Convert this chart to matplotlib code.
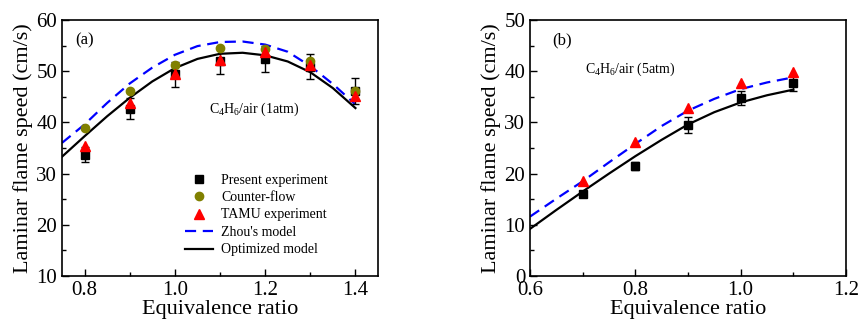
import matplotlib
matplotlib.use("Agg")
import matplotlib.pyplot as plt
from matplotlib.ticker import MultipleLocator

plt.rcParams["font.family"] = ["Liberation Serif", "DejaVu Serif"]
plt.rcParams["mathtext.fontset"] = "custom"
plt.rcParams["mathtext.rm"] = "Liberation Serif"
plt.rcParams["mathtext.it"] = "Liberation Serif:italic"

# ---- panel (a): C4H6/air, 1 atm ----
phi_a = [0.8, 0.9, 1.0, 1.1, 1.2, 1.3, 1.4]
present_a = [33.7, 42.7, 49.4, 52.0, 52.4, 50.9, 46.1]
present_a_err = [1.4, 2.1, 2.4, 2.6, 2.5, 2.4, 2.5]
counter_a = [39.0, 46.1, 51.2, 54.6, 54.3, 52.0, 46.1]
tamu_a = [35.4, 43.7, 49.5, 52.1, 53.8, 51.2, 45.2]

model_phi_a = [0.75, 0.8, 0.85, 0.9, 0.95, 1.0, 1.05, 1.1, 1.15, 1.2, 1.25, 1.3, 1.35, 1.4]
zhou_a = [36.0, 39.6, 43.8, 47.6, 50.7, 53.2, 54.9, 55.7, 55.8, 55.2, 53.8, 51.0, 47.5, 43.5]
optim_a = [33.3, 37.3, 41.2, 44.8, 48.0, 50.6, 52.4, 53.4, 53.6, 53.1, 51.9, 49.8, 46.7, 42.8]

# ---- panel (b): C4H6/air, 5 atm ----
phi_b = [0.7, 0.8, 0.9, 1.0, 1.1]
present_b = [16.0, 21.5, 29.5, 34.8, 37.6]
present_b_err = [0.5, 0.8, 1.5, 1.4, 1.5]
tamu_b = [18.6, 26.2, 32.9, 37.6, 39.9]

model_phi_b = [0.6, 0.65, 0.7, 0.75, 0.8, 0.85, 0.9, 0.95, 1.0, 1.05, 1.1]
zhou_b = [11.6, 15.1, 18.5, 22.2, 25.8, 29.3, 32.3, 34.6, 36.5, 37.8, 38.8]
optim_b = [9.2, 12.9, 16.5, 20.0, 23.4, 26.6, 29.6, 32.0, 33.9, 35.3, 36.4]

fig = plt.figure(figsize=(8.59, 3.29), dpi=100)
ax1 = fig.add_axes([62 / 859, 1 - 276 / 329, 316 / 859, 256 / 329])
ax2 = fig.add_axes([530 / 859, 1 - 276 / 329, 316 / 859, 256 / 329])


def style_axis(ax, xmaj, ymaj):
    ax.xaxis.set_major_locator(MultipleLocator(xmaj))
    ax.xaxis.set_minor_locator(MultipleLocator(xmaj / 2))
    ax.yaxis.set_major_locator(MultipleLocator(ymaj))
    ax.yaxis.set_minor_locator(MultipleLocator(ymaj / 2))
    ax.tick_params(which="both", direction="in", top=False, right=False, labelsize=15)
    ax.tick_params(which="major", length=5, width=1)
    ax.tick_params(which="minor", length=3, width=1)
    for s in ax.spines.values():
        s.set_linewidth(1.2)
    ax.set_xlabel("Equivalence ratio", fontsize=16, labelpad=0)
    ax.set_ylabel("Laminar flame speed (cm/s)", fontsize=16, labelpad=2)


# panel (a)
zh, = ax1.plot(model_phi_a, zhou_a, color="#0000ff", ls=(0, (5, 3)), lw=1.6)
op, = ax1.plot(model_phi_a, optim_a, color="black", lw=1.6)
ax1.errorbar(phi_a, present_a, yerr=present_a_err, fmt="none",
             ecolor="black", elinewidth=1, capsize=3)
pe, = ax1.plot(phi_a, present_a, "s", color="black", ms=5.5)
cf, = ax1.plot(phi_a, counter_a, "o", color="#808000", ms=6)
tm, = ax1.plot(phi_a, tamu_a, "^", color="red", ms=6.5)
ax1.set_xlim(0.75, 1.45)
ax1.set_ylim(10, 60)
style_axis(ax1, 0.2, 10)
ax1.text(0.8, 56, "(a)", fontsize=12, ha="center", va="center")
ax1.text(1.175, 42.5, r"C$_4$H$_6$/air (1atm)", fontsize=10, ha="center", va="center")

ax1.legend([pe, cf, tm, zh, op],
           ["Present experiment", "Counter-flow", "TAMU experiment",
            "Zhou's model", "Optimized model"],
           loc="upper left", bbox_to_anchor=(0.39, 0.40), frameon=False, fontsize=10,
           borderpad=0, borderaxespad=0, labelspacing=0.32,
           handlelength=2.0, handletextpad=0.6)

# panel (b)
ax2.plot(model_phi_b, zhou_b, color="#0000ff", ls=(0, (5, 3)), lw=1.6)
ax2.plot(model_phi_b, optim_b, color="black", lw=1.6)
ax2.errorbar(phi_b, present_b, yerr=present_b_err, fmt="none",
             ecolor="black", elinewidth=1, capsize=3)
ax2.plot(phi_b, present_b, "s", color="black", ms=5.5)
ax2.plot(phi_b, tamu_b, "^", color="red", ms=6.5)
ax2.set_xlim(0.6, 1.2)
ax2.set_ylim(0, 50)
style_axis(ax2, 0.2, 10)
ax2.text(0.66, 46, "(b)", fontsize=12, ha="center", va="center")
ax2.text(0.79, 40.3, r"C$_4$H$_6$/air (5atm)", fontsize=10, ha="center", va="center")

fig.savefig("out.png", dpi=100)
